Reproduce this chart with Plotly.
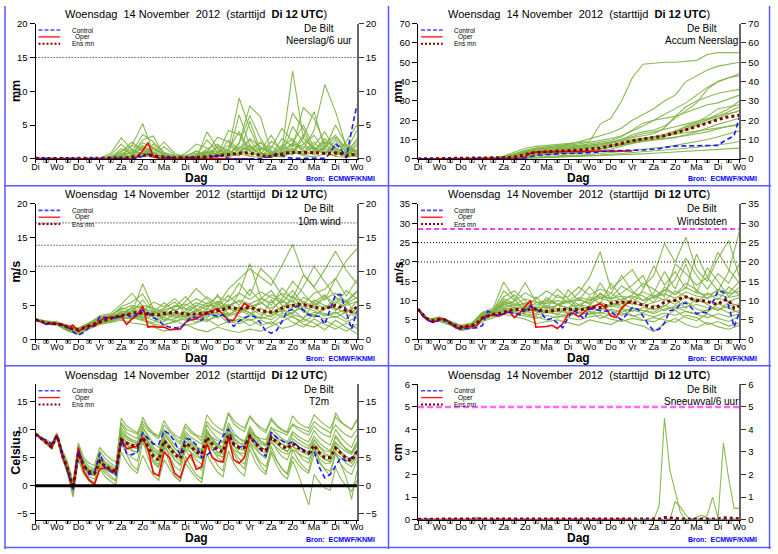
import plotly.graph_objects as go

# ECMWF ensemble pluim De Bilt, run Di 13 Nov 2012 12 UTC
W, H = 778, 554
FONT = 'Liberation Sans, Arial, sans-serif'
GREEN = '#7fb343'
NB = '\u00a0'

HOURS = list(range(0, 361, 6))       # 6-hourly lead times (control / ens mean)
HOURS_OPER = HOURS[:41]              # HRES only to day 10
HOURS_12 = list(range(0, 361, 12))   # 12-hourly sampling of the members
DAY_LABELS = ['Di', 'Wo', 'Do', 'Vr', 'Za', 'Zo', 'Ma', 'Di', 'Wo', 'Do', 'Vr', 'Za', 'Zo', 'Ma', 'Di', 'Wo']

# ---------------------------------------------------------------- precipitation / 6 h (mm)
PRECIP_CONTROL = [0.1, 0.1, 0, 0, 0, 0, 0, 0, 0, 0, 0, 0, 0, 0, 0, 0,
                  0, 0, 0, 0.1, 0.4, 0.7, 0.6, 0.2, 0.2, 0.2, 0.1, 0.1, 0.1, 0.1, 0.1, 0.1,
                  0.2, 0.3, 0.5, 0.4, 0.1, 0, 0, 0, 0, 0, 0, 0.2, 0.4, 0.8, 0.5, 0.2,
                  0.1, 0.1, 0.1, 0, 0, 0, 0.1, 0.8, 2.3, 1.5, 0.1, 4.2, 8.0]
PRECIP_OPER = [0, 0, 0, 0, 0, 0, 0, 0, 0, 0, 0, 0, 0, 0, 0, 0,
               0, 0, 0, 0.3, 1.2, 2.4, 0.3, 0.1, 0.1, 0.1, 0.1, 0.1, 0.1, 0.1, 0, 0,
               0, 0.1, 0.1, 0, 0, 0, 0, 0, 0]
PRECIP_ENSMN = [0.1, 0.05, 0.05, 0.05, 0.05, 0.05, 0.05, 0.05, 0.05, 0.05, 0.05, 0.05, 0.05, 0.05, 0.05, 0.1,
                0.1, 0.15, 0.3, 0.4, 0.5, 0.6, 0.4, 0.3, 0.2, 0.2, 0.15, 0.15, 0.15, 0.2, 0.2, 0.25,
                0.3, 0.4, 0.45, 0.5, 0.6, 0.7, 0.8, 0.9, 0.85, 0.7, 0.5, 0.35, 0.4, 0.6, 0.8, 0.9,
                0.95, 0.95, 1.0, 1.0, 0.95, 0.85, 0.8, 0.85, 0.9, 0.8, 0.5, 0.6, 0.7]
PRECIP_MEMBERS = [
    [0, 0, 0, 0, 0, 0, 0, 0.3, 1.2, 2.0, 5.2, 1.0, 0.3, 0.2, 0.1, 0.5, 1.2, 0.6, 0.3, 1.5, 2.8, 0.9, 0.4, 1.8, 3.0, 1.2, 0.6, 2.0, 1.1, 0.5, 1.4],
    [0, 0, 0, 0, 0, 0, 0.1, 0.8, 3.1, 1.4, 0.6, 2.2, 1.0, 0.4, 0.3, 1.1, 0.5, 2.0, 1.2, 9.0, 4.5, 1.0, 0.2, 0.8, 2.4, 5.0, 1.6, 0.7, 2.8, 1.0, 0.6],
    [0, 0, 0, 0, 0, 0, 0, 0.2, 0.6, 1.0, 3.6, 2.5, 0.8, 0.5, 0.2, 0.1, 4.0, 1.5, 0.6, 2.4, 7.8, 6.2, 1.0, 0.5, 1.2, 2.2, 3.5, 1.2, 0.4, 2.6, 5.0],
    [0, 0, 0, 0, 0, 0, 0, 0, 0.4, 2.0, 1.5, 0.6, 1.8, 0.5, 0.2, 0.6, 1.0, 3.2, 2.5, 1.0, 1.8, 0.7, 2.6, 1.4, 13.0, 3.0, 1.5, 0.8, 1.6, 0.7, 2.3],
    [0, 0, 0, 0, 0, 0, 0, 0.1, 1.5, 0.7, 2.8, 3.4, 0.5, 0.2, 0.8, 2.2, 1.6, 0.6, 4.2, 3.6, 1.0, 2.5, 0.5, 3.0, 1.8, 7.6, 6.0, 2.2, 3.5, 1.6, 0.8],
    [0, 0, 0, 0, 0, 0, 0, 0, 0.2, 0.5, 1.0, 0.4, 0.2, 0.1, 0.3, 0.2, 0.8, 0.3, 1.2, 0.6, 3.0, 1.8, 0.9, 0.6, 2.0, 1.5, 4.2, 11.0, 7.0, 1.8, 1.0],
    [0, 0, 0, 0, 0, 0, 0, 0.5, 2.2, 0.5, 1.8, 0.8, 2.5, 0.8, 0.3, 0.4, 2.8, 1.0, 0.4, 1.0, 2.1, 0.5, 1.6, 4.5, 2.6, 1.0, 2.0, 4.0, 1.2, 0.6, 3.0],
    [0, 0, 0, 0, 0, 0, 0, 0, 0, 0.3, 0.6, 1.5, 0.4, 0.1, 0, 0.2, 0.6, 0.9, 0.5, 6.5, 2.0, 0.6, 1.0, 0.6, 4.8, 2.4, 0.7, 1.5, 5.0, 2.0, 1.2],
    [0, 0, 0, 0, 0, 0, 0, 0.2, 0.8, 1.4, 0.5, 0.2, 0.1, 0.5, 0.2, 0.3, 1.5, 2.2, 0.8, 0.4, 5.6, 1.2, 3.5, 1.0, 0.6, 3.2, 7.0, 1.6, 0.8, 0.4, 2.0],
    [0, 0, 0, 0, 0, 0, 0, 0, 0.1, 0.4, 2.0, 0.9, 0.3, 0.2, 0.4, 1.2, 0.3, 0.5, 2.8, 1.4, 0.5, 0.9, 0.2, 1.2, 6.8, 4.4, 1.0, 2.4, 0.6, 1.0, 0.3],
    [0, 0, 0, 0, 0, 0, 0, 0.3, 1.0, 2.5, 1.2, 0.3, 0.6, 0.2, 0.1, 0.5, 0.3, 1.8, 0.6, 2.2, 6.4, 3.0, 0.6, 0.3, 1.4, 0.8, 1.8, 0.6, 2.2, 1.2, 4.2],
    [0, 0, 0, 0, 0, 0, 0, 0, 0.5, 0.2, 0.8, 0.3, 0.1, 0, 0.2, 0.6, 1.0, 0.4, 1.5, 4.0, 1.4, 0.3, 0.8, 2.0, 0.9, 3.6, 1.2, 3.0, 1.5, 0.3, 0.8],
    [0, 0, 0, 0, 0, 0, 0, 0.1, 0.6, 0.9, 1.4, 0.7, 0.4, 0.3, 0.2, 0.4, 0.9, 1.2, 0.7, 1.8, 1.2, 1.6, 0.8, 1.4, 2.2, 1.8, 1.4, 2.6, 1.6, 0.9, 1.2],
    [0, 0, 0, 0, 0, 0, 0, 0, 0.3, 1.2, 0.8, 1.8, 0.6, 0.2, 0.1, 0.2, 0.5, 0.3, 0.9, 0.6, 1.5, 2.4, 1.2, 0.5, 0.8, 1.1, 2.5, 0.9, 1.8, 2.2, 0.7],
    [0, 0, 0, 0, 0, 0, 0, 0.2, 0.4, 0.6, 2.4, 1.6, 0.7, 0.3, 0.5, 0.8, 0.4, 1.0, 2.0, 1.1, 0.8, 1.3, 1.9, 0.7, 1.6, 0.6, 0.9, 1.7, 3.2, 1.4, 2.6],
    [0, 0, 0, 0, 0, 0, 0, 0, 0.1, 0.2, 0.9, 0.5, 0.2, 0.1, 0, 0.1, 0.3, 0.6, 0.3, 0.8, 0.4, 0.2, 0.6, 0.3, 1.0, 0.5, 0.3, 0.8, 0.4, 0.2, 0.5],
]

# ---------------------------------------------------------------- accumulated precipitation (mm)
ACCUM_CONTROL = [0, 0, 0, 0, 0, 0, 0, 0, 0, 0, 0, 0, 0, 0, 0, 0,
                 0, 0, 0, 0.2, 0.5, 1.2, 1.8, 2.0, 2.3, 2.5, 2.6, 2.7, 2.8, 2.8, 2.9, 2.9,
                 3.0, 3.3, 3.8, 4.1, 4.2, 4.3, 4.3, 4.4, 4.4, 4.5, 4.6, 4.8, 4.9, 5.3, 5.9, 6.3,
                 6.6, 6.7, 6.8, 6.8, 6.8, 6.8, 6.9, 6.9, 7.0, 9.0, 10.6, 12.0, 21.6]
ACCUM_OPER = [0, 0, 0, 0, 0, 0, 0, 0, 0, 0, 0, 0, 0, 0, 0, 0,
              0, 0, 0, 0.3, 1.0, 3.0, 3.5, 3.6, 3.7, 3.7, 3.8, 3.8, 3.8, 3.9, 3.9, 3.9,
              4.0, 4.0, 4.0, 4.0, 4.1, 4.1, 4.1, 4.1, 4.1]
ACCUM_ENSMN = [0, 0.02, 0.05, 0.07, 0.1, 0.12, 0.15, 0.17, 0.2, 0.22, 0.25, 0.3, 0.35, 0.4, 0.45, 0.5,
               0.6, 0.7, 1.0, 1.5, 2.2, 3.0, 3.4, 3.5, 3.7, 3.8, 4.0, 4.1, 4.3, 4.4, 4.6, 4.8,
               5.0, 5.3, 5.7, 6.2, 6.7, 7.3, 8.0, 8.8, 9.5, 9.9, 10.3, 10.6, 11.0, 11.5, 12.0, 12.7,
               13.5, 14.2, 15.0, 15.9, 16.8, 17.6, 18.5, 19.5, 20.5, 21.2, 21.8, 22.2, 22.6]
ACCUM_MEMBERS = [
    [0, 0, 0, 0.1, 0.2, 0.3, 0.4, 0.6, 1.5, 3.5, 5.5, 6.5, 7.0, 7.4, 8.0, 8.5, 9.0, 18.0, 21.0, 30.0, 42.0, 49.0, 49.5, 50.0, 50.0, 50.5, 51.0, 54.0, 55.0, 55.0, 55.0],
    [0, 0, 0, 0, 0.1, 0.2, 0.3, 0.5, 1.2, 2.8, 4.5, 5.6, 6.2, 6.8, 7.5, 8.8, 10.5, 12.0, 13.5, 16.0, 20.0, 23.0, 26.0, 30.0, 33.0, 40.0, 43.0, 46.0, 48.0, 49.0, 50.0],
    [0, 0, 0, 0, 0, 0.1, 0.2, 0.3, 0.8, 1.5, 3.0, 4.2, 4.8, 5.2, 5.6, 6.0, 6.6, 7.2, 8.5, 10.0, 12.5, 14.0, 15.0, 17.0, 21.0, 25.0, 29.0, 36.0, 40.0, 42.0, 44.0],
    [0, 0, 0, 0, 0, 0, 0.1, 0.2, 0.5, 1.2, 2.5, 3.2, 3.6, 4.0, 4.3, 4.8, 5.5, 6.5, 8.0, 9.5, 11.0, 12.0, 13.0, 16.0, 22.0, 27.0, 30.0, 32.0, 34.0, 35.0, 36.0],
    [0, 0, 0, 0, 0, 0.1, 0.1, 0.2, 0.6, 1.8, 4.0, 5.5, 6.0, 6.3, 6.6, 7.0, 7.8, 8.6, 9.5, 11.5, 15.0, 18.5, 20.0, 21.0, 22.0, 24.0, 26.0, 28.0, 29.0, 31.0, 33.0],
    [0, 0, 0, 0, 0, 0, 0, 0.1, 0.3, 0.8, 1.5, 2.2, 2.8, 3.0, 3.2, 3.4, 4.0, 5.0, 6.0, 7.5, 9.0, 10.5, 11.5, 12.0, 14.0, 17.0, 19.0, 22.0, 26.0, 27.0, 28.0],
    [0, 0, 0, 0, 0, 0, 0.1, 0.3, 1.0, 2.2, 3.4, 4.0, 4.4, 4.8, 5.0, 5.3, 5.8, 6.4, 7.0, 7.8, 8.8, 9.5, 10.0, 11.5, 13.5, 15.0, 17.0, 19.0, 21.0, 23.0, 25.0],
    [0, 0, 0, 0, 0, 0, 0, 0, 0.2, 0.6, 1.2, 1.8, 2.2, 2.5, 2.7, 3.0, 3.5, 4.2, 5.0, 6.5, 8.0, 9.0, 9.6, 10.2, 11.0, 12.5, 14.0, 16.0, 18.0, 19.5, 21.0],
    [0, 0, 0, 0, 0, 0, 0, 0.1, 0.4, 1.0, 2.0, 2.6, 3.0, 3.3, 3.6, 4.0, 4.5, 5.2, 6.2, 7.4, 8.5, 9.2, 10.0, 10.6, 11.2, 12.0, 13.0, 14.0, 15.5, 17.0, 18.0],
    [0, 0, 0, 0, 0, 0, 0, 0, 0.1, 0.3, 0.6, 1.0, 1.4, 1.6, 1.8, 2.0, 2.3, 2.8, 3.2, 3.8, 4.5, 5.0, 5.6, 6.2, 7.0, 8.0, 9.0, 10.0, 11.5, 13.0, 14.5],
    [0, 0, 0, 0, 0, 0, 0, 0, 0.1, 0.2, 0.4, 0.6, 0.8, 1.0, 1.2, 1.4, 1.6, 2.0, 2.4, 2.8, 3.2, 3.6, 4.0, 4.4, 5.0, 5.5, 6.0, 6.6, 7.2, 8.0, 9.0],
    [0, 0, 0, 0, 0, 0, 0, 0.2, 0.6, 1.5, 3.5, 5.0, 5.8, 6.4, 7.0, 7.8, 8.6, 9.4, 10.5, 12.0, 14.5, 17.0, 20.0, 23.0, 26.0, 29.0, 33.0, 37.0, 40.0, 42.0, 43.0],
    [0, 0, 0, 0, 0, 0, 0, 0, 0, 0.1, 0.3, 0.5, 0.7, 0.9, 1.0, 1.1, 1.3, 1.5, 1.8, 2.0, 2.3, 2.6, 2.9, 3.2, 3.5, 3.8, 4.1, 4.4, 4.8, 5.2, 5.6],
    [0, 0, 0, 0, 0, 0, 0.1, 0.2, 0.7, 1.6, 3.2, 4.4, 5.0, 5.4, 5.8, 6.3, 7.0, 7.8, 8.8, 10.2, 11.8, 13.0, 14.0, 15.2, 16.6, 18.0, 19.4, 21.0, 22.4, 23.6, 24.5],
    [0, 0, 0, 0, 0, 0, 0, 0.1, 0.4, 1.2, 2.6, 3.6, 4.0, 4.4, 4.8, 5.2, 5.7, 6.3, 7.2, 8.4, 9.6, 10.6, 11.6, 12.8, 14.6, 16.4, 18.2, 20.0, 22.0, 24.5, 27.0],
    [0, 0, 0, 0, 0, 0.1, 0.2, 0.4, 1.0, 2.4, 4.2, 5.0, 5.4, 5.7, 6.0, 6.4, 7.0, 7.6, 8.2, 9.0, 10.0, 10.8, 11.4, 12.0, 12.8, 13.6, 14.4, 15.4, 16.2, 17.0, 17.6],
    [0, 0, 0, 0, 0, 0, 0, 0, 0.3, 0.9, 1.8, 2.6, 3.2, 3.6, 3.9, 4.2, 4.6, 5.4, 6.4, 7.6, 9.0, 10.2, 11.0, 12.0, 13.6, 15.6, 17.8, 20.4, 23.0, 26.0, 30.0],
]

# ---------------------------------------------------------------- 10 m wind (m/s)
WIND_CONTROL = [2.9, 2.5, 2.2, 2.2, 2.3, 2.1, 1.8, 1.1, 0.6, 1.0, 1.8, 2.0, 3.3, 3.2, 3.0, 3.2,
                3.4, 3.6, 3.2, 3.8, 4.3, 3.9, 3.2, 2.8, 2.0, 1.8, 1.7, 1.6, 2.4, 3.3, 3.2, 2.8,
                3.8, 3.6, 3.4, 3.6, 2.8, 1.9, 2.7, 3.2, 3.5, 3.3, 2.4, 1.2, 0.9, 1.3, 2.6, 4.2,
                4.4, 5.0, 4.3, 3.6, 3.4, 3.4, 2.2, 4.5, 6.6, 6.6, 4.0, 1.5, 4.2]
WIND_OPER = [2.9, 2.6, 2.3, 2.4, 2.3, 2.2, 1.7, 2.1, 1.1, 1.8, 2.0, 1.9, 2.7, 3.2, 3.2, 3.3,
             3.4, 2.2, 3.0, 3.6, 4.9, 1.8, 1.9, 1.8, 1.8, 1.4, 1.5, 1.5, 2.5, 2.9, 3.0, 3.5,
             4.0, 4.2, 4.6, 3.6, 2.8, 2.8, 4.2, 5.3, 4.8]
WIND_ENSMN = [2.9, 2.6, 2.4, 2.3, 2.3, 2.1, 1.8, 1.5, 1.4, 1.7, 1.9, 2.2, 2.6, 2.9, 3.1, 3.3,
              3.5, 3.7, 3.9, 4.0, 3.8, 3.7, 3.6, 3.6, 3.8, 3.9, 4.0, 3.9, 3.7, 3.7, 3.7, 3.8,
              3.9, 4.0, 4.2, 4.4, 4.7, 4.6, 4.5, 4.6, 4.7, 4.5, 4.2, 4.1, 4.0, 4.2, 4.6, 4.8,
              5.0, 5.2, 5.1, 4.9, 4.7, 4.6, 4.5, 4.7, 5.0, 4.7, 4.2, 4.1, 4.8]
WIND_MEMBERS = [
    [2.9, 2.5, 2.4, 1.6, 1.0, 2.2, 2.9, 3.1, 4.2, 4.0, 5.8, 3.9, 4.6, 5.5, 3.8, 4.9, 6.3, 5.1, 7.4, 8.9, 10.4, 9.2, 8.0, 10.9, 14.0, 9.6, 7.8, 10.3, 13.0, 10.2, 8.2],
    [2.8, 2.4, 2.1, 1.2, 0.7, 1.5, 2.5, 3.4, 4.8, 5.5, 6.7, 4.2, 3.2, 4.8, 6.3, 4.5, 3.6, 5.2, 4.4, 6.8, 11.2, 6.3, 5.0, 7.6, 6.0, 9.5, 7.7, 5.8, 8.9, 11.6, 13.4],
    [3.0, 2.7, 2.6, 2.0, 1.6, 2.3, 3.5, 3.8, 5.2, 6.8, 4.9, 3.1, 2.6, 4.0, 5.6, 7.5, 6.0, 4.2, 5.8, 8.3, 6.4, 10.5, 9.0, 6.5, 5.4, 7.8, 10.8, 8.4, 6.2, 5.4, 7.0],
    [2.9, 2.6, 2.3, 1.8, 1.4, 1.8, 2.7, 2.8, 3.7, 3.9, 8.2, 4.5, 2.8, 3.0, 4.2, 5.0, 4.4, 6.6, 3.5, 4.8, 4.0, 3.1, 5.8, 4.0, 6.5, 4.4, 3.2, 5.0, 4.6, 3.8, 5.6],
    [2.8, 2.5, 2.2, 1.5, 1.2, 2.0, 2.4, 2.6, 3.1, 3.0, 3.5, 2.8, 2.2, 2.5, 3.5, 3.0, 2.6, 3.8, 2.4, 3.0, 2.0, 2.8, 2.2, 3.6, 2.5, 1.8, 3.0, 2.2, 1.5, 2.4, 1.6],
    [3.0, 2.6, 2.5, 1.9, 1.7, 2.5, 3.2, 3.5, 4.6, 4.3, 4.0, 5.5, 4.8, 6.0, 4.5, 4.0, 5.0, 4.8, 6.5, 5.0, 7.4, 5.6, 4.2, 6.0, 8.6, 6.8, 5.0, 6.4, 5.2, 7.2, 6.0],
    [2.9, 2.4, 2.2, 1.4, 0.9, 1.6, 2.2, 2.5, 2.8, 2.4, 2.2, 1.8, 1.2, 1.6, 2.2, 1.5, 1.1, 1.8, 1.3, 1.0, 1.5, 1.2, 1.9, 2.6, 3.4, 2.2, 1.8, 2.8, 2.0, 1.2, 2.2],
    [2.8, 2.5, 2.4, 1.7, 1.3, 2.1, 3.0, 3.3, 3.9, 3.6, 3.2, 3.8, 4.0, 3.4, 2.8, 3.6, 4.2, 3.1, 4.6, 3.8, 5.2, 4.0, 3.3, 4.4, 3.8, 5.4, 4.6, 3.6, 4.0, 3.0, 4.6],
    [2.9, 2.6, 2.3, 1.3, 1.1, 1.9, 2.6, 3.0, 3.4, 4.8, 3.0, 2.4, 3.6, 4.4, 3.2, 2.5, 3.8, 5.6, 3.0, 2.6, 3.4, 6.0, 7.2, 5.0, 4.4, 3.0, 5.5, 6.6, 4.2, 5.8, 3.4],
    [2.8, 2.3, 2.1, 1.5, 1.0, 1.7, 2.3, 2.7, 3.2, 3.3, 2.7, 2.2, 2.0, 2.8, 2.0, 2.4, 3.0, 2.0, 2.6, 2.3, 3.0, 2.0, 2.6, 1.6, 2.0, 3.0, 2.4, 1.4, 2.8, 1.8, 0.8],
    [3.0, 2.7, 2.5, 2.1, 1.5, 2.4, 3.3, 3.6, 4.4, 5.0, 4.6, 4.0, 5.4, 4.2, 5.0, 6.0, 5.2, 6.3, 5.6, 6.8, 5.9, 7.0, 6.2, 5.4, 7.2, 5.2, 6.8, 7.4, 9.0, 6.4, 8.8],
    [2.9, 2.5, 2.4, 1.6, 1.2, 2.2, 2.8, 3.2, 3.6, 3.4, 4.3, 3.4, 3.8, 3.1, 3.7, 4.2, 3.4, 4.0, 4.8, 4.2, 3.6, 4.6, 3.8, 4.8, 5.8, 4.0, 3.6, 4.4, 5.6, 4.6, 3.0],
    [2.9, 2.5, 2.3, 1.7, 1.3, 2.0, 2.7, 3.0, 3.5, 3.8, 3.6, 3.9, 4.2, 3.6, 3.3, 4.4, 3.9, 4.6, 5.2, 4.5, 4.8, 5.4, 4.6, 5.6, 5.0, 4.2, 5.8, 5.0, 4.4, 5.2, 6.2],
    [2.8, 2.4, 2.2, 1.4, 1.0, 1.8, 2.6, 2.9, 3.3, 3.0, 3.9, 3.3, 2.9, 3.6, 4.0, 3.2, 4.6, 3.8, 3.4, 4.0, 4.6, 3.6, 4.2, 3.2, 4.0, 4.8, 4.2, 3.4, 3.8, 4.4, 3.6],
    [3.0, 2.6, 2.4, 1.8, 1.5, 2.1, 2.9, 3.4, 4.0, 4.4, 5.0, 4.6, 4.0, 5.0, 4.4, 5.4, 4.8, 5.6, 4.8, 5.8, 5.2, 6.0, 5.4, 6.8, 6.2, 5.6, 4.8, 6.0, 6.8, 5.6, 7.2],
    [2.9, 2.5, 2.3, 1.5, 1.1, 1.9, 2.5, 2.8, 3.0, 3.2, 2.9, 3.6, 3.2, 2.6, 3.0, 3.5, 2.8, 3.3, 3.9, 3.4, 2.8, 3.3, 2.9, 3.9, 3.2, 2.6, 3.6, 3.0, 3.4, 2.6, 3.2],
    [2.9, 2.6, 2.4, 1.9, 1.4, 2.3, 3.1, 3.3, 3.8, 4.1, 4.6, 3.6, 4.4, 4.8, 5.2, 4.3, 5.4, 4.4, 5.0, 5.6, 4.8, 5.2, 6.6, 5.8, 4.6, 6.2, 5.4, 4.6, 6.0, 5.0, 5.6],
    [2.8, 2.4, 2.3, 1.6, 1.2, 2.1, 2.8, 3.1, 3.7, 3.5, 3.1, 4.2, 3.5, 4.0, 3.4, 3.8, 3.2, 4.1, 3.6, 4.4, 3.9, 3.0, 3.6, 4.2, 3.6, 3.2, 4.0, 3.8, 3.2, 4.0, 4.8],
]

# ---------------------------------------------------------------- wind gusts (m/s)
GUST_CONTROL = [7.8, 6.0, 4.8, 4.2, 5.0, 5.1, 4.4, 3.0, 2.6, 2.8, 2.8, 3.0, 3.5, 7.3, 6.6, 6.1,
                6.6, 7.0, 6.8, 6.3, 7.5, 8.6, 7.8, 6.8, 5.0, 5.4, 4.2, 3.0, 5.5, 7.5, 6.5, 5.2,
                7.8, 7.8, 7.4, 7.3, 7.2, 6.0, 5.0, 6.5, 8.2, 7.8, 6.0, 3.8, 2.2, 2.6, 4.2, 7.4,
                7.7, 9.0, 9.4, 8.2, 6.6, 7.0, 6.8, 9.5, 12.5, 12.2, 8.5, 3.2, 7.0]
GUST_OPER = [7.8, 5.8, 4.8, 4.4, 5.3, 5.2, 4.2, 3.0, 3.0, 3.2, 3.3, 3.5, 5.5, 6.2, 6.2, 6.0,
             6.5, 7.2, 5.6, 6.8, 8.5, 10.0, 3.1, 3.2, 3.3, 3.6, 2.8, 4.0, 6.5, 6.8, 5.8, 7.0,
             8.0, 8.6, 9.2, 8.0, 6.0, 5.6, 8.0, 9.3, 10.0]
GUST_ENSMN = [7.8, 6.2, 5.0, 4.8, 5.2, 5.0, 4.2, 3.5, 3.2, 3.3, 3.5, 4.2, 5.5, 6.0, 6.5, 6.6,
              7.0, 7.6, 7.8, 7.7, 7.5, 7.8, 7.8, 7.4, 7.2, 7.4, 7.6, 7.7, 7.8, 7.7, 7.6, 7.8,
              8.2, 8.3, 8.2, 8.6, 9.3, 9.6, 9.6, 9.5, 9.6, 9.2, 8.8, 8.4, 8.2, 8.6, 9.6, 9.9,
              10.0, 10.6, 11.0, 10.5, 10.0, 10.0, 9.8, 9.3, 9.0, 10.2, 10.0, 8.0, 8.6]
GUST_MEMBERS = [
    [7.8, 5.0, 5.4, 4.4, 3.2, 3.8, 6.6, 7.4, 12.5, 10.0, 14.6, 9.8, 8.0, 11.5, 9.5, 12.0, 16.0, 22.6, 13.0, 15.5, 18.0, 13.5, 16.5, 24.8, 20.0, 26.4, 18.0, 15.0, 21.0, 25.5, 16.0],
    [7.7, 4.8, 5.0, 4.0, 2.8, 3.4, 6.0, 6.8, 9.5, 11.5, 8.5, 6.5, 9.8, 13.0, 10.5, 8.0, 11.0, 9.2, 14.5, 11.0, 9.0, 12.8, 19.0, 14.0, 17.5, 13.0, 22.0, 16.0, 12.5, 17.5, 28.0],
    [7.9, 5.2, 5.8, 4.6, 3.6, 4.2, 7.0, 8.0, 14.8, 10.5, 7.0, 11.0, 8.4, 7.0, 12.8, 10.0, 13.6, 10.5, 11.8, 16.5, 12.5, 10.0, 12.0, 17.5, 13.0, 19.5, 12.0, 18.5, 15.0, 11.0, 13.5],
    [7.8, 4.9, 4.8, 3.8, 2.4, 3.0, 5.0, 6.0, 7.0, 6.6, 6.0, 5.4, 6.2, 5.5, 6.8, 6.0, 7.2, 5.4, 6.5, 7.8, 6.2, 5.0, 4.5, 6.0, 7.5, 5.6, 4.8, 6.6, 5.4, 4.6, 6.0],
    [7.8, 5.1, 5.2, 4.2, 3.0, 3.6, 6.2, 7.2, 10.0, 8.6, 9.2, 8.0, 7.0, 8.8, 9.6, 7.6, 8.5, 12.0, 9.5, 8.4, 10.6, 9.0, 11.5, 10.0, 12.5, 11.0, 9.5, 12.0, 10.2, 13.5, 11.5],
    [7.7, 4.7, 4.6, 3.6, 2.2, 2.8, 4.6, 5.6, 6.5, 5.8, 5.2, 4.0, 4.6, 5.0, 4.2, 3.6, 5.0, 4.4, 3.8, 5.2, 4.0, 3.4, 2.0, 4.0, 5.4, 3.8, 3.0, 4.4, 3.2, 2.6, 3.6],
    [7.9, 5.0, 5.6, 4.5, 3.4, 4.0, 6.8, 7.6, 11.0, 12.5, 10.0, 7.6, 10.8, 9.0, 8.0, 10.5, 9.0, 14.6, 10.4, 12.0, 14.0, 16.5, 10.5, 12.5, 15.5, 21.0, 16.5, 13.0, 17.0, 14.5, 19.5],
    [7.8, 4.9, 5.1, 4.0, 2.6, 3.3, 5.6, 6.6, 8.2, 7.6, 7.2, 6.6, 7.6, 6.4, 8.2, 7.0, 6.6, 8.0, 7.4, 6.2, 7.6, 6.8, 8.8, 7.4, 8.6, 9.8, 7.8, 7.0, 9.2, 8.0, 6.8],
    [7.8, 5.0, 5.3, 4.3, 3.1, 3.7, 6.4, 6.9, 9.0, 9.8, 12.0, 10.4, 12.5, 10.8, 11.0, 13.5, 11.4, 13.0, 12.0, 10.0, 11.5, 14.5, 13.0, 11.0, 19.5, 17.0, 14.0, 16.0, 22.5, 18.0, 14.5],
    [7.7, 4.8, 4.9, 3.9, 2.5, 3.1, 5.2, 6.3, 7.8, 7.2, 6.4, 5.8, 5.0, 6.0, 5.6, 5.0, 5.8, 6.2, 5.2, 4.6, 5.4, 4.8, 5.6, 5.0, 4.4, 6.2, 5.6, 3.8, 4.6, 3.4, 4.2],
    [7.9, 5.1, 5.5, 4.4, 3.3, 3.9, 6.5, 7.3, 10.5, 9.2, 8.0, 9.4, 10.2, 9.0, 10.2, 9.0, 10.0, 11.0, 10.8, 13.8, 12.0, 11.2, 9.5, 13.5, 11.5, 14.5, 12.8, 10.5, 13.0, 12.0, 15.0],
    [7.8, 5.0, 5.2, 4.1, 2.9, 3.5, 6.0, 7.0, 9.2, 8.0, 8.8, 7.2, 8.8, 7.8, 7.0, 8.8, 7.6, 9.6, 8.4, 9.2, 8.0, 7.4, 7.0, 8.6, 10.4, 8.0, 10.6, 9.0, 7.4, 9.6, 8.4],
    [7.8, 5.0, 5.2, 4.2, 3.0, 3.6, 6.2, 7.0, 8.6, 8.2, 7.8, 8.4, 8.0, 8.8, 8.2, 9.0, 8.4, 9.2, 8.8, 9.8, 9.4, 8.6, 9.6, 10.4, 9.0, 11.0, 10.0, 9.4, 10.6, 9.8, 10.8],
    [7.8, 4.9, 5.0, 3.9, 2.7, 3.2, 5.8, 6.6, 7.6, 7.0, 8.0, 7.2, 6.8, 7.4, 6.8, 7.8, 7.2, 6.6, 7.8, 7.0, 8.2, 7.4, 6.6, 7.8, 8.4, 7.2, 6.6, 7.6, 8.2, 6.8, 7.4],
    [7.9, 5.1, 5.4, 4.3, 3.2, 3.8, 6.4, 7.4, 9.6, 9.0, 10.4, 9.6, 9.2, 10.0, 9.4, 10.8, 10.2, 11.6, 10.4, 11.2, 10.6, 12.2, 11.0, 12.8, 11.6, 13.4, 12.0, 11.4, 12.6, 11.8, 12.4],
    [7.7, 4.8, 4.9, 3.8, 2.6, 3.2, 5.4, 6.4, 7.2, 6.8, 6.6, 6.2, 7.0, 6.4, 6.0, 6.8, 6.4, 7.0, 6.2, 6.8, 6.0, 6.6, 5.8, 6.8, 6.2, 7.2, 6.4, 5.6, 6.6, 5.8, 6.6],
    [7.8, 5.0, 5.3, 4.2, 3.1, 3.7, 6.3, 7.1, 9.0, 8.6, 9.4, 8.8, 9.8, 9.0, 9.6, 10.2, 9.4, 10.6, 9.8, 10.4, 11.2, 10.0, 10.8, 11.8, 10.6, 12.2, 11.2, 10.6, 11.6, 10.8, 11.4],
    [7.8, 4.9, 5.1, 4.0, 2.8, 3.4, 5.9, 6.8, 8.0, 7.6, 7.0, 7.8, 7.4, 8.0, 7.6, 7.0, 8.0, 7.6, 8.6, 8.0, 7.2, 8.2, 7.6, 8.8, 7.8, 8.4, 9.0, 8.2, 7.6, 8.6, 9.2],
]

# ---------------------------------------------------------------- 2 m temperature (Celsius)
T2M_CONTROL = [9.2, 8.5, 8.1, 7.4, 9.0, 5.6, 2.5, -0.8, 6.3, 3.8, 2.0, 2.3, 5.8, 3.2, 2.6, 1.9,
               8.3, 5.8, 5.5, 6.0, 9.4, 8.3, 7.4, 7.4, 9.8, 9.2, 7.8, 5.4, 8.4, 8.2, 7.3, 5.0,
               5.5, 6.2, 7.0, 8.8, 10.1, 7.2, 6.8, 7.2, 8.7, 7.8, 6.5, 5.2, 9.5, 8.6, 8.0, 7.4,
               7.8, 7.0, 6.4, 5.8, 6.2, 3.2, 1.4, 2.0, 3.5, 5.0, 4.4, 5.0, 6.2]
T2M_OPER = [9.2, 8.4, 7.8, 6.8, 9.0, 5.2, 2.8, -0.6, 6.8, 2.5, 1.0, 0.2, 3.0, 3.2, 2.8, 2.2,
            8.4, 6.6, 6.8, 7.0, 8.6, 6.5, 2.2, 1.8, 6.0, 5.0, 2.2, 1.4, 4.2, 5.6, 2.9, 3.4,
            7.4, 5.0, 4.4, 4.2, 8.7, 4.6, 4.0, 5.0, 8.9]
T2M_ENSMN = [9.2, 8.4, 7.6, 6.9, 8.9, 5.5, 3.0, -0.4, 5.8, 3.5, 2.5, 2.2, 4.4, 3.4, 3.0, 2.5,
             8.2, 7.6, 7.2, 7.0, 8.6, 7.0, 5.2, 4.5, 8.0, 6.8, 5.6, 4.8, 7.5, 7.0, 6.0, 5.6,
             8.6, 7.4, 6.4, 6.0, 9.0, 7.4, 6.8, 6.8, 8.8, 7.6, 6.6, 6.2, 8.6, 7.8, 7.0, 6.6,
             7.5, 6.8, 6.2, 5.8, 7.2, 5.8, 5.0, 5.0, 6.7, 5.8, 4.9, 4.4, 6.0]
T2M_MEMBERS = [
    [9.3, 8.6, 8.0, 7.2, 9.2, 6.0, 3.8, 0.2, 7.0, 4.6, 3.4, 3.0, 6.2, 4.8, 4.0, 3.4,
     12.0, 10.6, 10.0, 9.4, 11.5, 10.2, 9.0, 8.4, 10.8, 9.6, 8.6, 7.8, 10.4, 9.4, 8.8, 8.0,
     11.4, 10.2, 9.6, 9.0, 12.8, 11.0, 10.2, 9.6, 12.2, 11.0, 10.0, 9.4, 11.6, 10.6, 9.8, 9.4,
     10.8, 10.0, 9.4, 9.0, 10.6, 9.6, 9.0, 8.6, 13.0, 11.4, 10.6, 10.0, 11.8],
    [9.1, 8.3, 7.4, 6.5, 8.6, 4.8, 2.0, -2.0, 4.6, 2.0, 0.8, 0.4, 3.0, 1.6, 0.8, 0.2,
     6.0, 4.2, 3.0, 2.2, 5.4, 3.4, 1.8, 1.0, 4.6, 3.0, 1.6, 0.8, 4.0, 2.6, 1.4, 0.6,
     5.6, 3.8, 2.4, 1.6, 6.2, 4.0, 2.6, 1.8, 6.6, 4.2, 2.8, 2.0, 5.8, 3.6, 2.0, 1.2,
     4.4, 2.2, -0.6, -3.4, 2.0, 0.6, -0.4, -0.8, 3.2, 1.2, 0.0, -1.0, 1.0],
    [9.2, 8.5, 7.9, 7.0, 9.0, 5.6, 3.2, -0.4, 6.0, 3.6, 2.6, 2.4, 4.8, 3.6, 3.0, 2.4,
     10.4, 8.8, 8.2, 7.8, 10.6, 8.6, 6.8, 6.0, 9.4, 8.0, 6.6, 5.8, 8.8, 7.4, 6.4, 5.8,
     10.0, 8.4, 7.4, 6.8, 10.6, 8.6, 7.6, 7.0, 10.2, 8.8, 7.8, 7.2, 9.6, 8.4, 7.4, 6.8,
     9.2, 8.2, 7.6, 7.0, 8.8, 7.6, 6.8, 6.2, 8.6, 7.4, 6.6, 6.0, 7.8],
    [9.2, 8.4, 7.6, 6.6, 8.8, 5.0, 2.4, -1.2, 6.4, 2.8, 1.2, 0.6, 3.6, 2.6, 1.8, 1.0,
     8.4, 5.6, 3.6, 2.8, 8.0, 5.0, 2.6, 1.6, 6.8, 4.0, 1.8, 0.8, 5.2, 3.4, 2.0, 1.2,
     7.8, 5.2, 3.6, 2.6, 8.4, 5.8, 4.0, 3.0, 8.0, 5.4, 3.6, 2.4, 7.0, 4.6, 3.0, 2.2,
     6.4, 4.6, 3.4, 2.6, 6.8, 4.4, 2.8, 1.8, 6.0, 3.6, 1.4, -2.4, 2.6],
    [9.3, 8.7, 8.2, 7.6, 9.4, 6.4, 4.2, 0.8, 7.6, 5.0, 4.0, 3.6, 6.8, 5.6, 4.8, 4.2,
     11.2, 10.0, 9.6, 9.2, 11.0, 9.8, 9.2, 8.8, 10.0, 9.0, 8.2, 7.4, 9.6, 8.6, 8.0, 7.4,
     9.4, 8.6, 8.0, 7.6, 10.0, 9.0, 8.4, 8.0, 9.6, 8.8, 8.4, 8.2, 10.2, 9.8, 9.4, 9.0,
     11.0, 10.4, 10.0, 9.6, 11.4, 10.6, 10.0, 9.4, 10.8, 9.8, 9.0, 8.6, 10.0],
    [9.2, 8.5, 7.7, 6.9, 8.9, 5.4, 2.8, -0.8, 5.4, 3.2, 2.2, 2.0, 4.2, 3.0, 2.4, 1.8,
     9.2, 7.4, 6.4, 5.8, 9.8, 7.6, 5.4, 4.4, 8.6, 6.4, 4.6, 3.6, 7.4, 5.8, 4.6, 3.8,
     9.0, 7.0, 5.8, 5.0, 9.4, 7.2, 5.8, 5.0, 8.8, 7.0, 5.6, 4.8, 8.2, 6.4, 5.2, 4.6,
     7.2, 5.8, 4.6, 4.0, 7.4, 5.8, 4.8, 4.2, 7.6, 6.0, 5.0, 4.4, 6.2],
    [9.3, 8.6, 7.9, 7.1, 9.1, 5.8, 3.6, 0.0, 6.6, 4.2, 3.0, 2.8, 5.6, 4.2, 3.6, 3.0,
     11.0, 9.4, 8.8, 8.4, 12.2, 10.4, 9.4, 8.8, 11.6, 10.0, 9.0, 8.4, 11.0, 9.8, 9.0, 8.6,
     12.6, 11.2, 10.4, 9.8, 13.0, 11.6, 10.8, 10.2, 12.4, 11.2, 10.4, 9.8, 12.0, 10.8, 10.0, 9.6,
     12.4, 11.2, 10.6, 10.2, 12.6, 11.6, 10.8, 10.2, 12.2, 11.2, 10.6, 10.0, 11.6],
    [9.1, 8.4, 7.5, 6.7, 8.7, 5.2, 2.6, -1.6, 5.0, 2.6, 1.6, 1.2, 3.4, 2.2, 1.4, 0.8,
     7.4, 5.8, 5.0, 4.4, 8.6, 6.2, 4.4, 3.4, 7.6, 5.2, 3.4, 2.6, 6.4, 4.8, 3.6, 2.8,
     8.2, 6.4, 5.0, 4.2, 8.0, 6.2, 4.8, 3.8, 7.2, 5.6, 4.2, 3.4, 6.2, 4.4, 3.0, 2.0,
     5.2, 3.8, 2.8, 2.2, 5.6, 4.0, 3.0, 2.6, 5.6, 3.8, 2.6, 2.0, 4.4],
    [9.2, 8.5, 7.8, 7.0, 9.0, 5.6, 3.2, -0.2, 6.2, 3.8, 2.8, 2.6, 5.2, 4.0, 3.2, 2.6,
     9.8, 8.6, 8.0, 7.4, 10.2, 8.8, 7.6, 6.8, 9.8, 8.4, 7.2, 6.4, 9.2, 8.0, 7.0, 6.4,
     10.8, 9.4, 8.4, 7.8, 11.2, 9.4, 8.4, 7.6, 10.6, 9.0, 8.0, 7.4, 10.4, 9.2, 8.4, 7.8,
     9.6, 8.8, 8.2, 7.8, 9.8, 8.6, 7.8, 7.2, 10.0, 8.6, 7.6, 6.8, 9.0],
    [9.2, 8.4, 7.6, 6.8, 8.8, 5.4, 3.0, -0.6, 5.8, 3.4, 2.4, 2.2, 4.6, 3.2, 2.6, 2.0,
     8.8, 7.6, 7.0, 6.6, 9.4, 7.8, 6.2, 5.4, 8.2, 7.0, 5.8, 5.0, 8.0, 6.8, 5.6, 4.8,
     9.6, 8.0, 7.0, 6.4, 10.0, 8.2, 7.0, 6.2, 9.4, 8.0, 7.0, 6.2, 8.8, 7.6, 6.6, 6.0,
     8.0, 7.0, 6.2, 5.6, 8.2, 6.8, 5.8, 5.2, 9.0, 7.6, 6.4, 5.8, 7.4],
    [9.2, 8.5, 7.7, 6.9, 9.0, 5.6, 3.1, -0.3, 6.0, 3.6, 2.6, 2.3, 4.6, 3.5, 3.1, 2.6,
     8.6, 7.8, 7.4, 7.2, 9.0, 7.4, 5.8, 5.0, 8.4, 7.2, 6.0, 5.2, 7.8, 7.0, 6.2, 5.8,
     8.8, 7.6, 6.8, 6.4, 9.4, 7.8, 7.0, 6.8, 9.2, 7.8, 6.8, 6.4, 8.8, 8.0, 7.4, 7.0,
     7.8, 7.0, 6.4, 6.0, 7.6, 6.2, 5.4, 5.2, 7.0, 6.0, 5.2, 4.8, 6.4],
    [9.2, 8.4, 7.6, 6.8, 8.8, 5.4, 2.9, -0.5, 5.6, 3.3, 2.4, 2.1, 4.2, 3.2, 2.8, 2.3,
     7.8, 7.2, 6.8, 6.6, 8.2, 6.6, 4.6, 3.8, 7.6, 6.4, 5.2, 4.4, 7.0, 6.6, 5.8, 5.4,
     8.2, 7.0, 6.0, 5.6, 8.6, 7.0, 6.4, 6.4, 8.4, 7.2, 6.2, 5.8, 8.2, 7.4, 6.6, 6.2,
     7.0, 6.4, 5.8, 5.4, 6.8, 5.4, 4.6, 4.6, 6.4, 5.6, 4.6, 4.0, 5.6],
    [9.3, 8.5, 7.8, 7.0, 9.1, 5.7, 3.3, 0.0, 6.2, 3.8, 2.8, 2.5, 4.8, 3.8, 3.4, 2.8,
     9.4, 8.2, 7.8, 7.6, 9.6, 8.0, 6.4, 5.6, 9.0, 7.8, 6.6, 5.8, 8.4, 7.6, 6.8, 6.2,
     9.4, 8.2, 7.2, 6.8, 10.0, 8.4, 7.6, 7.4, 9.8, 8.4, 7.4, 7.0, 9.4, 8.6, 8.0, 7.6,
     8.4, 7.6, 7.0, 6.6, 8.2, 7.0, 6.2, 6.0, 7.8, 6.8, 6.0, 5.6, 7.0],
    [9.1, 8.3, 7.5, 6.7, 8.7, 5.3, 2.7, -1.0, 5.2, 3.0, 2.0, 1.8, 3.8, 2.8, 2.4, 2.0,
     7.2, 6.6, 6.2, 6.0, 7.6, 6.0, 4.0, 3.2, 7.0, 5.8, 4.6, 3.8, 6.6, 6.0, 5.2, 4.8,
     7.6, 6.4, 5.4, 5.0, 8.0, 6.4, 5.8, 5.8, 7.8, 6.6, 5.6, 5.2, 7.6, 6.8, 6.0, 5.6,
     6.4, 5.8, 5.2, 4.8, 6.2, 4.8, 4.0, 4.0, 5.8, 5.0, 4.0, 3.4, 5.0],
]

# ---------------------------------------------------------------- snowfall / 6 h (cm)
SNOW_CONTROL = [0] * 61
SNOW_OPER = [0] * 41
SNOW_ENSMN = [0.02, 0.02, 0.02, 0.02, 0.02, 0.02, 0.02, 0.02, 0.02, 0.02, 0.02, 0.02, 0.02, 0.02, 0.02, 0.02,
              0.02, 0.02, 0.02, 0.02, 0.02, 0.02, 0.02, 0.02, 0.02, 0.02, 0.02, 0.02, 0.02, 0.02, 0.02, 0.02,
              0.02, 0.02, 0.02, 0.02, 0.02, 0.02, 0.02, 0.02, 0.02, 0.02, 0.02, 0.02, 0.02, 0.03, 0.09, 0.06,
              0.05, 0.03, 0.02, 0.02, 0.02, 0.03, 0.03, 0.04, 0.03, 0.08, 0.06, 0.05, 0.04]
SNOW_MEMBERS = [
    [0, 0, 0, 0, 0, 0, 0, 0, 0, 0, 0, 0, 0, 0, 0, 0,
     0, 0, 0, 0, 0, 0, 0, 0, 0, 0, 0, 0, 0, 0, 0, 0,
     0, 0, 0, 0, 0, 0, 0, 0, 0, 0, 0, 0, 0, 0.6, 4.5, 2.2,
     1.2, 0.3, 0, 0, 0, 0, 0, 0, 0, 0, 0, 0, 0],
    [0, 0, 0, 0, 0, 0, 0, 0, 0, 0, 0, 0, 0, 0, 0, 0,
     0, 0, 0, 0, 0, 0, 0, 0, 0, 0, 0, 0, 0, 0, 0, 0,
     0, 0, 0, 0, 0, 0, 0, 0, 0, 0, 0, 0, 0, 0, 0, 0,
     0.8, 0.55, 0.2, 0, 0, 0, 0, 0, 0, 0, 0, 0, 0],
    [0, 0, 0, 0, 0, 0, 0, 0, 0, 0, 0, 0, 0, 0, 0, 0,
     0, 0, 0, 0, 0, 0, 0, 0, 0, 0, 0, 0, 0, 0, 0, 0,
     0, 0, 0, 0, 0, 0, 0, 0, 0, 0, 0, 0, 0, 0, 0, 0,
     0, 0, 0, 0, 0, 0.05, 0.2, 1.0, 0.05, 3.4, 1.8, 0.5, 0.5],
    [0, 0, 0, 0, 0, 0, 0, 0, 0, 0, 0.02, 0.1, 0.05, 0, 0, 0,
     0, 0, 0, 0, 0, 0, 0, 0, 0, 0, 0, 0, 0, 0, 0, 0,
     0, 0, 0, 0, 0, 0, 0, 0, 0, 0, 0, 0, 0, 0, 0, 0,
     0, 0, 0, 0, 0.1, 0.2, 0.05, 0, 0, 0, 0, 0, 0],
]

DOT = '1px,2px'
PANELS = [
    dict(label='Neerslag/6 uur', unit='mm', yrange=[0, 20], yticks=[0, 5, 10, 15, 20],
         members=PRECIP_MEMBERS, mhours=HOURS_12, control=PRECIP_CONTROL, oper=PRECIP_OPER,
         ensmn=PRECIP_ENSMN, hlines=[(15, 'black', DOT, 1)]),
    dict(label='Accum Neerslag', unit='mm', yrange=[0, 70], yticks=[0, 10, 20, 30, 40, 50, 60, 70],
         members=ACCUM_MEMBERS, mhours=HOURS_12, control=ACCUM_CONTROL, oper=ACCUM_OPER,
         ensmn=ACCUM_ENSMN, hlines=[]),
    dict(label='10m wind', unit='m/s', yrange=[0, 20], yticks=[0, 5, 10, 15, 20],
         members=WIND_MEMBERS, mhours=HOURS_12, control=WIND_CONTROL, oper=WIND_OPER,
         ensmn=WIND_ENSMN, hlines=[(17.2, 'black', DOT, 1), (13.9, 'black', DOT, 1), (10.8, 'black', DOT, 1)]),
    dict(label='Windstoten', unit='m/s', yrange=[0, 35], yticks=[0, 5, 10, 15, 20, 25, 30, 35],
         members=GUST_MEMBERS, mhours=HOURS_12, control=GUST_CONTROL, oper=GUST_OPER,
         ensmn=GUST_ENSMN, hlines=[(28.5, '#ff00ff', '5px,3px', 1.5), (25, 'black', DOT, 1), (20, 'black', DOT, 1)]),
    dict(label='T2m', unit='Celsius', yrange=[-6, 18], yticks=[-5, 0, 5, 10, 15],
         members=T2M_MEMBERS, mhours=HOURS, control=T2M_CONTROL, oper=T2M_OPER,
         ensmn=T2M_ENSMN, hlines=[(0, 'black', 'solid', 3)]),
    dict(label='Sneeuwval/6 uur', unit='cm', yrange=[0, 6], yticks=[0, 1, 2, 3, 4, 5, 6],
         members=SNOW_MEMBERS, mhours=HOURS, control=SNOW_CONTROL, oper=SNOW_OPER,
         ensmn=SNOW_ENSMN, hlines=[(5, '#ff66ff', '6px,3px', 2.5)]),
]

for p in PANELS:
    assert len(p['control']) == 61 and len(p['ensmn']) == 61 and len(p['oper']) == 41, p['label']
    for m in p['members']:
        assert len(m) == len(p['mhours']), p['label']


def days(hours):
    return [h / 24 for h in hours]


def px(x):
    return x / W


def py(y):
    return 1 - y / H


fig = go.Figure()
shapes, annotations = [], []
half_days = [i / 2 for i in range(31)]
tick_text = [DAY_LABELS[i // 2] if i % 2 == 0 else '' for i in range(31)]

for k, p in enumerate(PANELS, start=1):
    row, col = (k - 1) // 2, (k - 1) % 2
    ox, oy = 388 * col, 184 * row
    xa = 'xaxis' if k == 1 else f'xaxis{k}'
    ya = 'yaxis' if k == 1 else f'yaxis{k}'
    xref = 'x' if k == 1 else f'x{k}'
    yref = 'y' if k == 1 else f'y{k}'
    yright = f'y{k + 6}'

    for m in p['members']:
        fig.add_trace(go.Scatter(x=days(p['mhours']), y=m, mode='lines', xaxis=xref, yaxis=yref,
                                 line=dict(color=GREEN, width=1.1), opacity=0.9,
                                 showlegend=False, hoverinfo='skip'))
    fig.add_trace(go.Scatter(x=days(HOURS_OPER), y=p['oper'], mode='lines', xaxis=xref, yaxis=yref,
                             line=dict(color='#ff0000', width=1.6), showlegend=False))
    fig.add_trace(go.Scatter(x=days(HOURS), y=p['control'], mode='lines', xaxis=xref, yaxis=yref,
                             line=dict(color='#1a1aff', width=1.6, dash='5px,3px'), showlegend=False))
    fig.add_trace(go.Scatter(x=days(HOURS), y=p['ensmn'], mode='lines', xaxis=xref, yaxis=yref,
                             line=dict(color='#800000', width=3, dash='3px,3px'), showlegend=False))
    fig.add_trace(go.Scatter(x=[None], y=[None], xaxis=xref, yaxis=yright, showlegend=False, hoverinfo='skip'))

    y0, y1 = py(oy + 156), py(oy + 18)
    fig.layout[xa] = dict(domain=[px(ox + 32), px(ox + 358)], anchor=yref, range=[0, 15],
                          tickvals=half_days, ticktext=tick_text, ticks='outside', ticklen=3,
                          tickcolor='black', showline=True, linecolor='black', linewidth=1,
                          ticklabelstandoff=-4,
                          showgrid=False, zeroline=False, tickfont=dict(size=9, color='black', family=FONT))
    axis_common = dict(range=p['yrange'], tickvals=p['yticks'], ticks='outside', ticklen=5,
                       showgrid=False, zeroline=False, showline=True,
                       tickfont=dict(size=9.5, color='black', family=FONT))
    fig.layout[ya] = dict(domain=[y0, y1], anchor=xref, linecolor='black', linewidth=1,
                          tickcolor='black', **axis_common)
    fig.layout[f'yaxis{k + 6}'] = dict(overlaying=yref, side='right', anchor=xref,
                                       linecolor='#666666', linewidth=2, tickcolor='#333333', **axis_common)

    for val, colr, dash, wid in p['hlines']:
        shapes.append(dict(type='line', xref=f'{xref} domain', yref=yref, x0=0, x1=1, y0=val, y1=val,
                           line=dict(color=colr, dash=dash, width=wid), layer='above'))

    # legend block
    for dy, colr, dash, wid, txt in [(24.5, '#4a4aff', '4px,2px', 1.6, 'Control'),
                                     (31.5, '#ff2020', 'solid', 1.4, 'Oper'),
                                     (38.5, '#800000', '2px,2px', 2, 'Ens mn')]:
        shapes.append(dict(type='line', xref='paper', yref='paper', x0=px(ox + 35), x1=px(ox + 57),
                           y0=py(oy + dy), y1=py(oy + dy), line=dict(color=colr, dash=dash, width=wid)))
        annotations.append(dict(text=txt, x=px(ox + 80), y=py(oy + dy), xref='paper', yref='paper',
                                showarrow=False, xanchor='center', yanchor='middle',
                                font=dict(size=6.5, color='black', family=FONT)))

    texts = [
        dict(text=f'Woensdag{NB} 14 November{NB} 2012{NB} (starttijd{NB} <b>Di 12 UTC</b>)',
             x=px(ox + 195), y=py(oy + 8), font=dict(size=11, color='black', family=FONT)),
        dict(text='De Bilt', x=px(ox + 320), y=py(oy + 23), font=dict(size=10, color='black', family=FONT)),
        dict(text=p['label'], x=px(ox + 320), y=py(oy + 35.5), font=dict(size=10, color='black', family=FONT)),
        dict(text='<b>Dag</b>', x=px(ox + 195), y=py(oy + 175), font=dict(size=12, color='black', family=FONT)),
        dict(text='<b>Bron:  ECMWF/KNMI</b>', x=px(ox + 341), y=py(oy + 176),
             font=dict(size=7, color='#0000ff', family=FONT)),
        dict(text=f"<b>{p['unit']}</b>", x=px(ox + 12), y=py(oy + 87), textangle=-90,
             font=dict(size=12.5, color='black', family=FONT)),
    ]
    for a in texts:
        a.update(xref='paper', yref='paper', showarrow=False, xanchor='center', yanchor='middle')
    annotations += texts

    for hd in half_days[1::2]:
        annotations.append(dict(text='00', x=hd, y=py(oy + 158.5), xref=xref, yref='paper',
                                showarrow=False, xanchor='center', yanchor='middle',
                                font=dict(size=5.5, color='black', family=FONT)))

# blue panel frame
frame = '#5a5aff'
for x0, y0, x1, y1 in [(390, 0, 390, H), (0, 183.5, W, 183.5), (0, 367, W, 367),
                       (1, 0, 1, H), (W - 1.5, 0, W - 1.5, H), (0, H - 1.5, W, H - 1.5)]:
    shapes.append(dict(type='line', xref='paper', yref='paper', x0=px(x0), x1=px(x1),
                       y0=py(y0), y1=py(y1), line=dict(color=frame, width=1.5)))

fig.update_layout(width=W, height=H, margin=dict(l=0, r=0, t=0, b=0),
                  paper_bgcolor='white', plot_bgcolor='white',
                  font=dict(family=FONT, color='black'),
                  shapes=shapes, annotations=annotations, showlegend=False)

page_css = ("document.body.style.margin='0px';"
            "document.body.style.overflow='hidden';"
            "document.documentElement.style.overflow='hidden';")
fig.write_html('out.html', config={'displayModeBar': False}, post_script=page_css)
